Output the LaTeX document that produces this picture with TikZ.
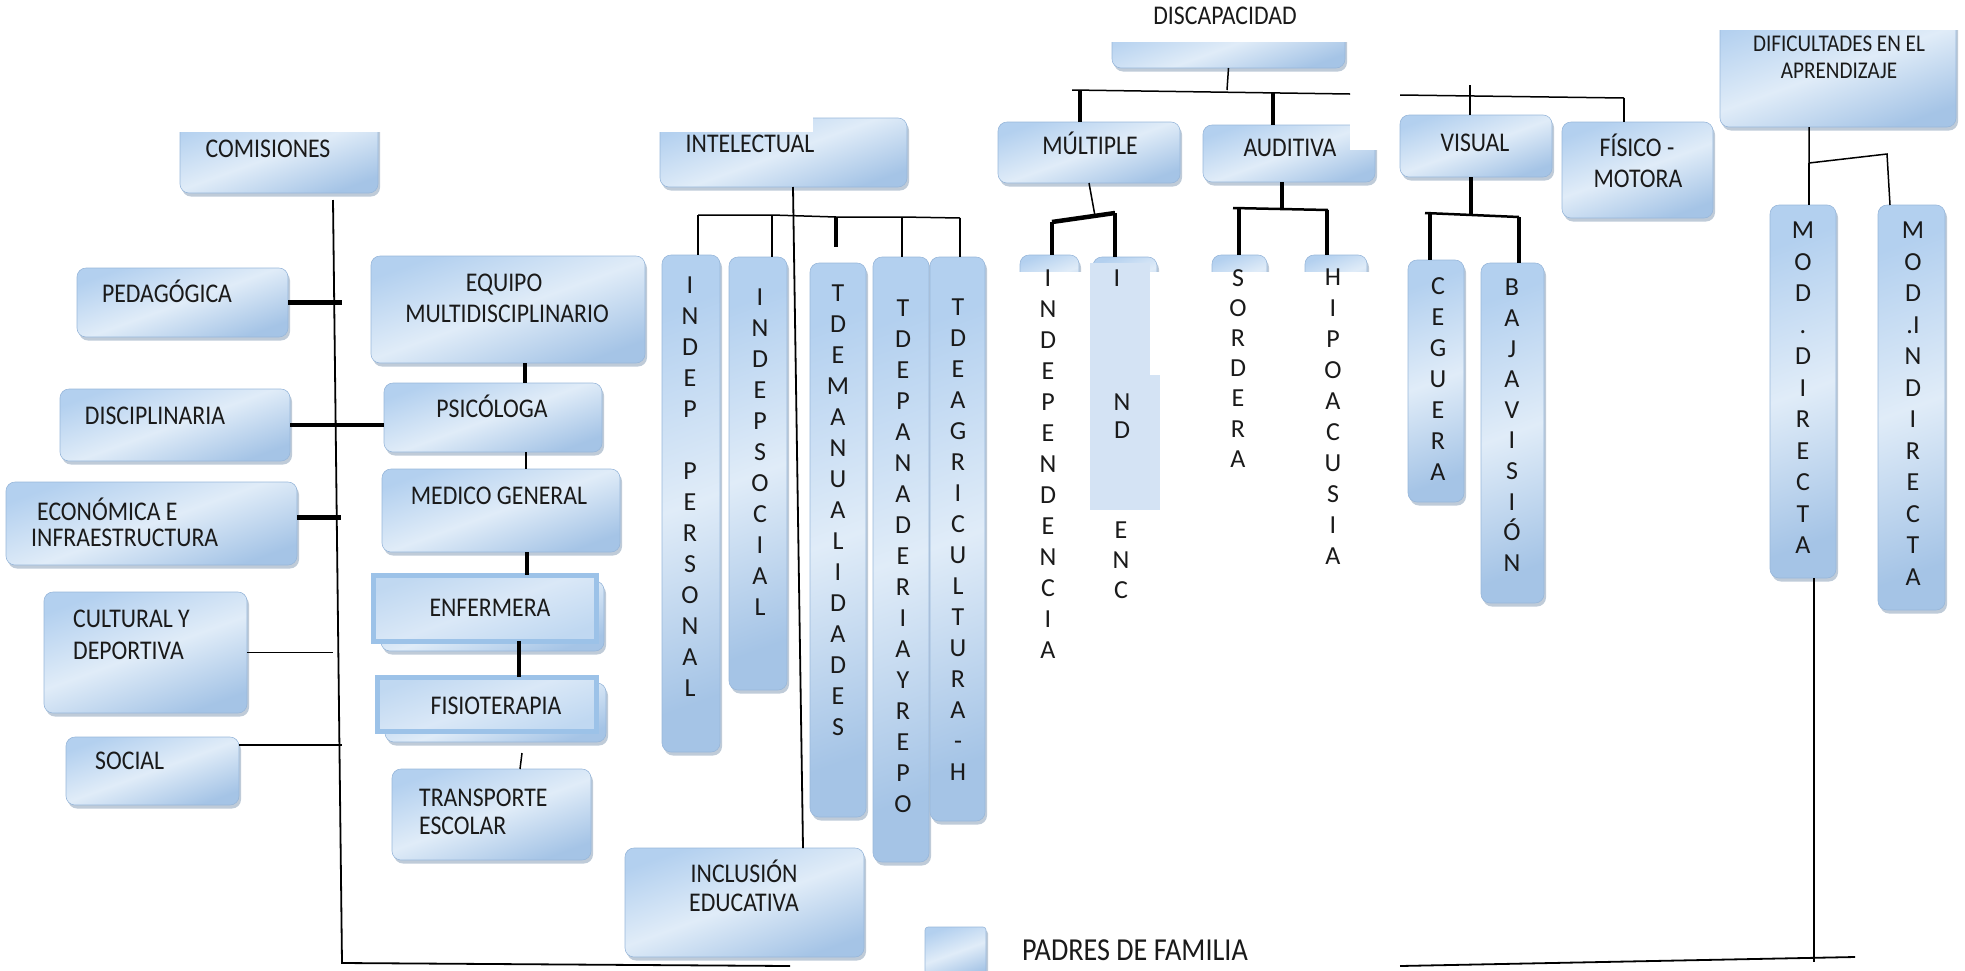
\documentclass[tikz,border=0pt]{standalone}
\usepackage{fontspec}
\setmainfont{Carlito}[FakeStretch=0.88]
\newfontfamily\vfont{Carlito}
\usetikzlibrary{shadows,fit,calc}
\definecolor{bxA}{HTML}{B3D0EF}
\definecolor{bxB}{HTML}{E0ECF8}
\definecolor{bxC}{HTML}{A5C4E6}
\definecolor{bxEdge}{HTML}{98B7DA}
\definecolor{shad}{HTML}{7F97B2}
\definecolor{flatblue}{HTML}{D4E3F4}
\definecolor{frameblue}{HTML}{9CC2E8}
\definecolor{frmIn}{HTML}{DAE8F7}
\definecolor{frmIn2}{HTML}{C0D8F1}
\definecolor{ink}{HTML}{1A1A1A}
\tikzset{
  bx/.style={rounded corners=9pt, draw=bxEdge, line width=0.6pt, inner sep=0pt, outer sep=0pt,
    top color=bxA, bottom color=bxC, middle color=bxB, shading angle=20,
    drop shadow={shadow xshift=2pt, shadow yshift=-3.5pt, opacity=0.5, fill=shad}},
  frm/.style={draw=frameblue, line width=5pt, inner sep=0pt, outer sep=0pt,
    top color=frmIn2, bottom color=frmIn2, middle color=frmIn, shading angle=20},
  ln/.style={line width=1.5pt, black},
  trunk/.style={line width=1.8pt, black},
  lnk/.style={line width=4.5pt, black},
  txt/.style={font=\fontsize{27}{30}\selectfont, inner sep=0pt, anchor=base, text=ink},
  vlet/.style={font=\vfont\fontsize{26}{31}\selectfont, align=center, inner sep=0pt, anchor=north, text=ink},
  mask/.style={fill=white, draw=none},
}
\begin{document}
\begin{tikzpicture}[x=1pt,y=-1pt]
\useasboundingbox (0,0) rectangle (1965,970);

% ---------- left column boxes ----------
\node[bx, fit={(180,115)(378,193)}] (com) {};
\node[bx, fit={(77,268)(288,337)}] (ped) {};
\node[bx, fit={(60,389)(290,461)}] (dis) {};
\node[bx, fit={(6,482)(297,565)}] (eco) {};
\node[bx, fit={(44,592)(247,713)}] (cul) {};
\node[bx, fit={(66,737)(239,805)}] (soc) {};
\fill[mask] (170,100) rectangle (392,132);

% ---------- team column ----------
\node[bx, fit={(371,256)(645,363)}] (equ) {};
\node[bx, fit={(384,383)(602,452)}] (psi) {};
\node[bx, fit={(382,469)(620,552)}] (med) {};
\node[bx, fit={(381,581)(604,651)}] (enfs) {};
\node[frm, fit={(373,575)(596,641)}] (enf) {};
\node[bx, fit={(385,683)(606,742)}] (fiss) {};
\node[frm, fit={(377,677)(596,731)}] (fis) {};
\node[bx, fit={(392,769)(591,860)}] (tra) {};

% ---------- intelectual ----------
\node[bx, fit={(660,118)(907,187)}] (int) {};
\fill[mask] (650,100) rectangle (813,132);
\node[bx, fit={(662,255)(720,752)}] (ip) {};
\node[bx, fit={(729,257)(787,690)}] (is) {};
\node[bx, fit={(810,263)(866,817)}] (tm) {};
\node[bx, fit={(873,257)(929,862)}] (tp) {};
\node[bx, fit={(930,257)(985,821)}] (ta) {};
\node[bx, fit={(625,848)(864,957)}] (inc) {};
\node[bx, rounded corners=3pt, fit={(925,927)(986,978)}] (pad) {};

% ---------- discapacidad ----------
\node[bx, fit={(1112,25)(1345,68)}] (disc) {};
\fill[mask] (1100,0) rectangle (1362,42);
\node[bx, fit={(998,122)(1180,183)}] (mul) {};
\node[bx, fit={(1203,125)(1375,182)}] (aud) {};
\fill[mask] (1350,118) rectangle (1382,150);
\node[bx, fit={(1400,115)(1552,177)}] (vis) {};
\node[bx, fit={(1562,122)(1713,218)}] (fim) {};
\node[bx, fit={(1720,10)(1956,127)}] (dif) {};
\fill[mask] (1710,0) rectangle (1965,30);

\node[bx, fit={(1020,255)(1079,300)}] (idp) {};
\node[bx, fit={(1093,257)(1157,300)}] (nd) {};
\node[bx, fit={(1212,255)(1267,300)}] (sor) {};
\node[bx, fit={(1305,255)(1367,300)}] (hip) {};
\fill[mask] (1005,272) rectangle (1385,312);
\fill[flatblue] (1090,263) rectangle (1150,375);
\fill[flatblue] (1090,375) rectangle (1160,510);

\node[bx, fit={(1408,260)(1464,502)}] (ceg) {};
\node[bx, fit={(1481,263)(1544,603)}] (baj) {};
\node[bx, fit={(1770,205)(1836,578)}] (mdi) {};
\node[bx, fit={(1878,205)(1945,610)}] (min) {};

% ---------- horizontal texts ----------
\node[txt] (tCom) at (268,157) {COMISIONES};
\node[txt] (tPed) at (167,302) {PEDAGÓGICA};
\node[txt] (tDis) at (155,424) {DISCIPLINARIA};
\node[txt, anchor=base west] (tEco1) at (37,520) {ECONÓMICA E};
\node[txt, anchor=base west] (tEco2) at (31,546) {INFRAESTRUCTURA};
\node[txt, anchor=base west] (tCul1) at (73,627) {CULTURAL Y};
\node[txt, anchor=base west] (tCul2) at (73,659) {DEPORTIVA};
\node[txt, anchor=base west] (tSoc) at (95,769) {SOCIAL};
\node[txt] (tEqu1) at (504,291) {EQUIPO};
\node[txt] (tEqu2) at (507,322) {MULTIDISCIPLINARIO};
\node[txt] (tPsi) at (492,417) {PSICÓLOGA};
\node[txt] (tMed) at (499,504) {MEDICO GENERAL};
\node[txt] (tEnf) at (490,616) {ENFERMERA};
\node[txt] (tFis) at (496,714) {FISIOTERAPIA};
\node[txt, anchor=base west] (tTra1) at (419,806) {TRANSPORTE};
\node[txt, anchor=base west] (tTra2) at (419,834) {ESCOLAR};
\node[txt] (tInt) at (750,152) {INTELECTUAL};
\node[txt] (tInc1) at (744,882) {INCLUSIÓN};
\node[txt] (tInc2) at (744,911) {EDUCATIVA};
\node[txt] (tDisc) at (1225,24) {DISCAPACIDAD};
\node[txt] (tMul) at (1090,154) {MÚLTIPLE};
\node[txt] (tAud) at (1290,156) {AUDITIVA};
\node[txt] (tVis) at (1475,151) {VISUAL};
\node[txt] (tFim1) at (1637,156) {FÍSICO -};
\node[txt] (tFim2) at (1638,187) {MOTORA};
\node[txt, font=\fontsize{24}{27}\selectfont] (tDif1) at (1839,51) {DIFICULTADES EN EL};
\node[txt, font=\fontsize{24}{27}\selectfont] (tDif2) at (1839,78) {APRENDIZAJE};
\node[txt, font=\fontsize{32}{36}\selectfont, anchor=base west] (tPad) at (1022,960) {PADRES DE FAMILIA};

% ---------- vertical texts ----------
\node[vlet] (ipT) at (690,277) {I\\N\\D\\E\\P\\[31pt]P\\E\\R\\S\\O\\N\\A\\L};
\node[vlet] (isT) at (760,289) {I\\N\\D\\E\\P\\S\\O\\C\\I\\A\\L};
\node[vlet] (tmT) at (838,285) {T\\D\\E\\M\\A\\N\\U\\A\\L\\I\\D\\A\\D\\E\\S};
\node[vlet] (tpT) at (903,300) {T\\D\\E\\P\\A\\N\\A\\D\\E\\R\\I\\A\\Y\\R\\E\\P\\O};
\node[vlet] (taT) at (958,299) {T\\D\\E\\A\\G\\R\\I\\C\\U\\L\\T\\U\\R\\A\\-\\H};
\node[vlet] (idpT) at (1048,270) {I\\N\\D\\E\\P\\E\\N\\D\\E\\N\\C\\I\\A};
\node[vlet] (ndT1) at (1117,270) {I};
\node[vlet, font=\vfont\fontsize{26}{28}\selectfont] (ndT2) at (1122,394) {N\\D};
\node[vlet, font=\vfont\fontsize{26}{30}\selectfont] (ndT3) at (1121,522) {E\\N\\C};
\node[vlet, font=\vfont\fontsize{26}{30.2}\selectfont] (sorT) at (1238,269) {S\\O\\R\\D\\E\\R\\A};
\node[vlet] (hipT) at (1333,269) {H\\I\\P\\O\\A\\C\\U\\S\\I\\A};
\node[vlet] (cegT) at (1438,277) {C\\E\\G\\U\\E\\R\\A};
\node[vlet, font=\vfont\fontsize{26}{30.6}\selectfont] (bajT) at (1512,279) {B\\A\\J\\A\\V\\I\\S\\I\\Ó\\N};
\node[vlet, font=\vfont\fontsize{26}{31.5}\selectfont] (mdiT) at (1803,222) {M\\O\\D\\.\\D\\I\\R\\E\\C\\T\\A};
\node[vlet, font=\vfont\fontsize{26}{31.5}\selectfont] (minT) at (1913,222) {M\\O\\D\\.I\\N\\D\\I\\R\\E\\C\\T\\A};

% ---------- connector coordinates ----------
\coordinate (trTop) at (333,200);
\coordinate (trBot) at (342,963);
\coordinate (botL) at (790,966);
\coordinate (kEP) at (525,0);
\coordinate (kPM) at (526,0);
\coordinate (kME) at (527,0);
\coordinate (kEF) at (519,0);
\coordinate (ft1) at (522,753);
\coordinate (ft2) at (520,0);
\coordinate (ivT) at (793,0);
\coordinate (ivB) at (803,0);
\coordinate (ib1) at (698,215);
\coordinate (ib2) at (772,215);
\coordinate (ib3) at (836,217);
\coordinate (ib4) at (902,217);
\coordinate (ib5) at (960,218);
\coordinate (dj) at (1227,90);
\coordinate (dbL) at (1072,90);
\coordinate (dbR) at (1350,94);
\coordinate (dtm) at (1080,90);
\coordinate (dta) at (1273,93);
\coordinate (db2L) at (1400,95);
\coordinate (db2R) at (1624,98);
\coordinate (dtv) at (1470,85);
\coordinate (mj) at (1095,216);
\coordinate (mbL) at (1052,222);
\coordinate (mbR) at (1115,213);
\coordinate (ak) at (1282,208);
\coordinate (abL) at (1233,208);
\coordinate (abR) at (1328,210);
\coordinate (at1) at (1239,208);
\coordinate (at2) at (1327,210);
\coordinate (vk) at (1471,215);
\coordinate (vbL) at (1425,213);
\coordinate (vbR) at (1519,217);
\coordinate (vt1) at (1430,213);
\coordinate (fk) at (1809,163);
\coordinate (fbR) at (1887,154);
\coordinate (fbR2) at (1890,0);
\coordinate (mk) at (1814,0);
\coordinate (mkB) at (1814,962);
\coordinate (brL) at (1400,966);
\coordinate (brR) at (1855,957);

% ---------- left connectors ----------
\draw[trunk] (trTop) -- (trBot) -- (botL);
\draw[lnk] (ped.east) -- (ped.east -| trBot);
\draw[lnk] (dis.east) -- (dis.east -| psi.west);
\draw[lnk] ([yshift=6pt]eco.east) -- ++(44,0);
\draw[ln] (cul.east) -- (cul.east -| trTop);
\draw[ln] ([yshift=26pt]soc.east) -- ++(103,0);
\draw[lnk] (kEP |- equ.south) -- (kEP |- psi.north);
\draw[ln] (kPM |- psi.south) -- (kPM |- med.north);
\draw[lnk] (kME |- med.south) -- (kME |- enf.north);
\draw[lnk] (kEF |- enf.south) -- (kEF |- fis.north);
\draw[ln] (ft1) -- (ft2 |- tra.north);

% ---------- intelectual connectors ----------
\draw[trunk] (ivT |- int.south) -- (ivB |- inc.north);
\draw[ln] (ib1) -- (ib2) -- (ib3) -- (ib4) -- (ib5);
\draw[ln] (ib1) -- (ib1 |- ip.north);
\draw[ln] (ib2) -- (ib2 |- is.north);
\draw[lnk, shorten >=16pt] (ib3) -- (ib3 |- tm.north);
\draw[ln] (ib4) -- (ib4 |- tp.north);
\draw[ln] (ib5) -- (ib5 |- ta.north);

% ---------- discapacidad connectors ----------
\draw[ln] (disc.south) -- (dj);
\draw[ln] (dbL) -- (dbR);
\draw[lnk] (dtm) -- (dtm |- mul.north);
\draw[lnk] (dta) -- (dta |- aud.north);
\draw[ln] (db2L) -- (db2R);
\draw[ln] (dtv) -- (dtv |- vis.north);
\draw[ln] (db2R) -- (db2R |- fim.north);
\draw[ln] (mul.south) -- (mj);
\draw[lnk] (mbL) -- (mbR);
\draw[lnk] (mbL) -- (mbL |- idp.north);
\draw[lnk] (mbR) -- (mbR |- nd.north);
\draw[lnk] (ak |- aud.south) -- (ak);
\draw[ln, line width=2.5pt] (abL) -- (abR);
\draw[lnk] (at1) -- (at1 |- sor.north);
\draw[lnk] (at2) -- (at2 |- hip.north);
\draw[lnk] (vk |- vis.south) -- (vk);
\draw[ln, line width=2.5pt] (vbL) -- (vbR);
\draw[lnk] (vt1) -- (vt1 |- ceg.north);
\draw[lnk] (vbR) -- (vbR |- baj.north);
\draw[ln] (fk |- dif.south) -- (fk) -- (fbR) -- (fbR2 |- min.north);
\draw[ln] (fk) -- (fk |- mdi.north);
\draw[trunk] (mk |- mdi.south) -- (mkB);
\draw[trunk] (brL) -- (brR);
\end{tikzpicture}
\end{document}
